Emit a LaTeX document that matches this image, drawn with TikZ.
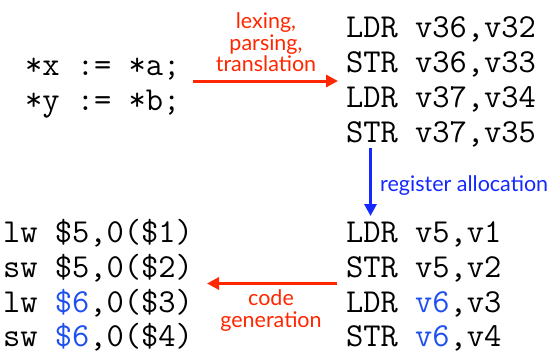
\documentclass[tikz,border=0pt]{standalone}
\usepackage{fontspec}
\newfontfamily\labfont{Lato}
\usetikzlibrary{arrows.meta}
\definecolor{redA}{RGB}{255,38,0}
\definecolor{blueA}{RGB}{20,40,255}
\definecolor{blueT}{RGB}{30,80,240}
\tikzset{
  code/.style={anchor=base west, inner sep=0pt, font=\ttfamily\fontsize{33.5}{33.5}\selectfont},
  lab/.style={inner sep=0pt, font=\labfont\fontsize{21.5}{22}\selectfont},
  arr/.style={line width=3pt, -{Triangle[length=12pt,width=12pt]}},
}
\begin{document}
\begin{tikzpicture}[x=1pt,y=-1pt]
\useasboundingbox (0,0) rectangle (554,356);
% source
\node[code] (s1) at (25,75) {*x := *a;};
\node[code] (s2) at (25,110) {*y := *b;};
% IR virtual
\node[code] (v1) at (346,37.7) {LDR v36,v32};
\node[code] (v2) at (346,72.5) {STR v36,v33};
\node[code] (v3) at (346,107.4) {LDR v37,v34};
\node[code] (v4) at (346,142.3) {STR v37,v35};
% IR allocated
\node[code] (r1) at (346,242.5) {LDR v5,v1};
\node[code] (r2) at (346,277.3) {STR v5,v2};
\node[code] (r3) at (346,312) {LDR \textcolor{blueT}{v6},v3};
\node[code] (r4) at (346,346.7) {STR \textcolor{blueT}{v6},v4};
% MIPS
\node[code] (m1) at (3,242.5) {lw \$5,0(\$1)};
\node[code] (m2) at (3,277.3) {sw \$5,0(\$2)};
\node[code] (m3) at (3,312) {lw \textcolor{blueT}{\$6},0(\$3)};
\node[code] (m4) at (3,346.7) {sw \textcolor{blueT}{\$6},0(\$4)};
% arrows
\coordinate (a1s) at (193,81);
\coordinate (a1e) at (338,81);
\draw[arr, redA] (a1s) -- (a1e);
\node[lab, anchor=base, text=redA] (l1) at (266,28) {lexing,};
\node[lab, anchor=base, text=redA] (l2) at (266,50) {parsing,};
\node[lab, anchor=base, text=redA] (l3) at (266,71.5) {translation};
\coordinate (a2s) at (370.5,148);
\coordinate (a2e) at (370.5,216);
\draw[arr, blueA] (a2s) -- (a2e);
\node[lab, anchor=base west, text=blueA] (l4) at (380,191.5) {register allocation};
\coordinate (a3s) at (337,283.5);
\coordinate (a3e) at (207,283.5);
\draw[arr, redA] (a3s) -- (a3e);
\node[lab, anchor=base, text=redA] (l5) at (271,305.5) {code};
\node[lab, anchor=base, text=redA] (l6) at (271,327) {generation};
\end{tikzpicture}
\end{document}
